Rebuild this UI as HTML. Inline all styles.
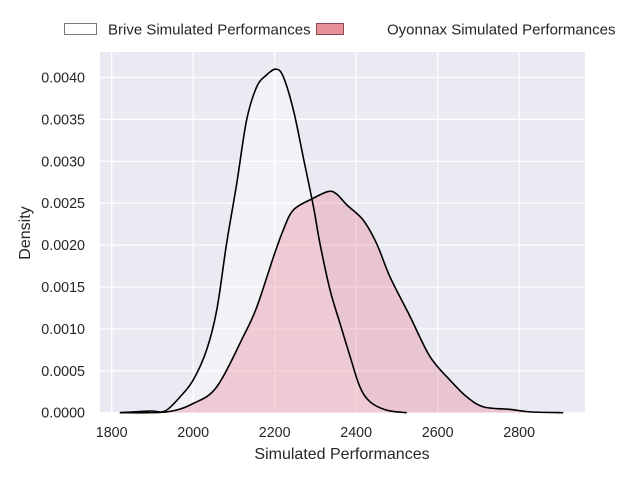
<!DOCTYPE html>
<html><head><meta charset="utf-8"><style>
body{margin:0;background:#fff;}
svg{font-family:"Liberation Sans",Arial,sans-serif;}
</style></head><body>
<svg id="chart" width="640" height="480" viewBox="0 0 640 480">
<rect x="0" y="0" width="640" height="480" fill="#fff"/>
<rect x="100" y="52" width="485" height="361" fill="#eaeaf2"/>
<g id="grid"></g>
<g id="areas"></g>
<g id="lines"></g>
<g id="axes"></g>
<text x="342" y="459" font-size="16" text-anchor="middle" fill="#262626">Simulated Performances</text>
<text x="30" y="233" font-size="16" text-anchor="middle" fill="#262626" transform="rotate(-90 30 233)">Density</text>
<g>
<g>
<rect x="64.5" y="23.5" width="32" height="11" fill="#fff" stroke="#777"/>
<text x="108" y="34.5" font-size="15" fill="#262626">Brive Simulated Performances</text>
</g>
<g>
<rect x="316.5" y="23.5" width="27" height="11" fill="#e8909a" stroke="#8a4a55"/>
<text x="387" y="34.5" font-size="15" fill="#262626">Oyonnax Simulated Performances</text>
</g>
</g>
</svg>
<script>
const xTicks=[1800,2000,2200,2400,2600,2800];
const yTicks=[0,0.0005,0.0010,0.0015,0.0020,0.0025,0.0030,0.0035,0.0040];
const yTickLabels=["0.0000","0.0005","0.0010","0.0015","0.0020","0.0025","0.0030","0.0035","0.0040"];
const briveX=[1820,1894,1931,1968,2000,2033,2058,2082,2107,2131,2156,2180,2203,2221,2246,2270,2295,2311,2336,2360,2385,2409,2434,2475,2524];
const briveY=[0,0.00002,0.00002,0.00019,0.00039,0.00075,0.00123,0.00202,0.00274,0.00349,0.00389,0.00403,0.0041,0.00401,0.00361,0.00305,0.00246,0.00202,0.00146,0.00107,0.00067,0.00031,0.00013,0.00003,0];
const oyoX=[1820,1935,2000,2058,2123,2156,2197,2221,2246,2295,2332,2352,2377,2417,2450,2483,2532,2581,2630,2671,2712,2777,2826,2908];
const oyoY=[0,0.00001,0.00011,0.00031,0.00091,0.00126,0.00186,0.00218,0.00242,0.00256,0.00264,0.00261,0.00248,0.0023,0.00202,0.00162,0.00115,0.00067,0.00039,0.00019,0.00007,0.00004,0.00001,0];
const NS='http://www.w3.org/2000/svg';
const X=v=>111.7+(v-1800)*0.4075;
const Y=v=>412.7-v*83800;
function mk(tag,attrs,parent){const e=document.createElementNS(NS,tag);for(const k in attrs)e.setAttribute(k,attrs[k]);parent.appendChild(e);return e;}
const grid=document.getElementById('grid'),axes=document.getElementById('axes'),areas=document.getElementById('areas'),lines=document.getElementById('lines');
xTicks.forEach(t=>{
 const l=mk('line',{x1:X(t),x2:X(t),y1:52,y2:413,stroke:'#fff','stroke-width':1.2},grid);
 
 
 const tx=mk('text',{x:X(t),y:437,'font-size':14.3,'text-anchor':'middle',fill:'#262626'},axes);
 tx.textContent=t;
 
 
});
yTicks.forEach((t,i)=>{
 const l=mk('line',{x1:100,x2:585,y1:Y(t),y2:Y(t),stroke:'#fff','stroke-width':1.2},grid);
 
 
 const tx=mk('text',{x:85,y:Y(t)+5,'font-size':14.3,'text-anchor':'end',fill:'#262626'},axes);
 tx.textContent=yTickLabels[i];
 
 
});
function smooth(xs,ys){
 const p=xs.map((x,i)=>[X(x),Y(ys[i])]);
 let d='M'+p[0][0]+','+p[0][1];
 for(let i=0;i<p.length-1;i++){
  const p0=p[Math.max(0,i-1)],p1=p[i],p2=p[i+1],p3=p[Math.min(p.length-1,i+2)];
  const c1=[p1[0]+(p2[0]-p0[0])/6,p1[1]+(p2[1]-p0[1])/6];
  const c2=[p2[0]-(p3[0]-p1[0])/6,p2[1]-(p3[1]-p1[1])/6];
  d+=' C'+c1[0]+','+c1[1]+' '+c2[0]+','+c2[1]+' '+p2[0]+','+p2[1];
 }
 return d;
}
function draw(xs,ys,fill,name){
 const d=smooth(xs,ys);
 const a=mk('path',{d:d+' L'+X(xs[xs.length-1])+','+Y(0)+' L'+X(xs[0])+','+Y(0)+' Z',fill:fill,stroke:'none'},areas);
 
 
 const l=mk('path',{d:d,fill:'none',stroke:'#000','stroke-width':1.6},lines);
 
 
}
draw(briveX,briveY,'rgba(255,255,255,0.35)','brive-kde');
draw(oyoX,oyoY,'rgba(232,130,150,0.35)','oyonnax-kde');
</script>
</body></html>
